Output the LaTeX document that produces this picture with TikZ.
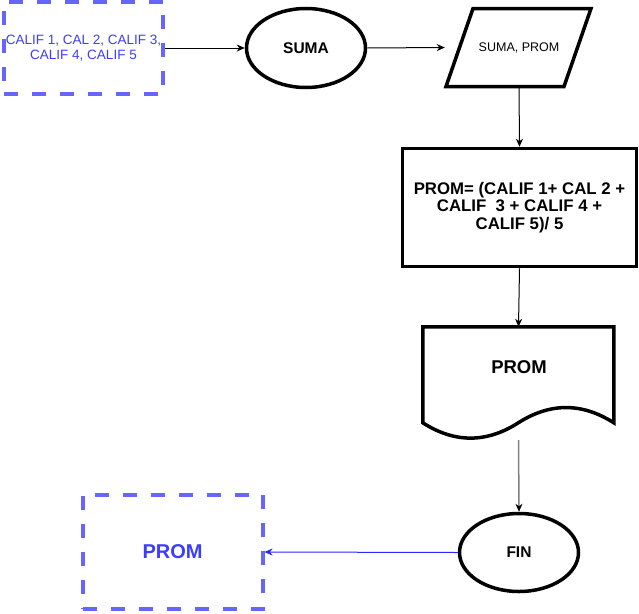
\documentclass[tikz,border=0pt]{standalone}
\usepackage{fontspec}
\setmainfont{Liberation Sans}
\usetikzlibrary{shapes.geometric,arrows.meta,calc}
\definecolor{dashblue}{HTML}{6666FF}
\definecolor{txtblue}{HTML}{3C3CFF}
\definecolor{lineblue}{HTML}{2828FF}
\definecolor{arrgray}{HTML}{808080}
\begin{document}
\begin{tikzpicture}[x=1pt,y=-1pt,
  dbox/.style={draw=dashblue, line width=4pt, dash pattern=on 14pt off 14pt, rectangle, inner sep=0pt, text=txtblue, align=center},
  term/.style={draw, ellipse, line width=3.5pt, inner sep=0pt, font=\bfseries\fontsize{15.5}{18}\selectfont},
  plain/.style={rectangle, inner sep=0pt, align=center},
  conn/.style={-{Stealth[length=8pt,width=7pt,inset=2.5pt]}, line width=1pt},
]
\useasboundingbox (0,0) rectangle (639,613);

\node[dbox, minimum width=159pt, minimum height=92.5pt, font=\fontsize{13.5}{15}\selectfont] (in) at (83.5,48) {CALIF 1, CAL 2, CALIF 3,\\CALIF 4, CALIF 5};

\node[term, minimum width=119pt, minimum height=79pt] (suma) at (306,48) {SUMA};

\node[plain, minimum width=148pt, minimum height=78pt, font=\fontsize{12.5}{15}\selectfont] (pr) at (519,47.5) {SUMA, PROM};
\draw[line width=3.5pt, line join=miter] (473,8.5) -- (591,8.5) -- (564,86.5) -- (446,86.5) -- cycle;

\node[draw, rectangle, line width=3.5pt, minimum width=234pt, minimum height=118pt, inner sep=0pt, align=center, font=\bfseries\fontsize{16.8}{17.5}\selectfont] (calc) at (519.5,207.5) {PROM= (CALIF 1+ CAL 2 +\\CALIF\ \ 3 + CALIF 4 +\\CALIF 5)/ 5};

\node[plain, minimum width=191pt, minimum height=113pt] (doc) at (518.5,383.5) {};
\begin{scope}[shift={(doc.north west)}]
\draw[line width=3.5pt, line join=miter] (0,0) -- (191,0) -- (191,96)
  .. controls (159.17,75.67) and (127.33,75.67) .. (95.5,96)
  .. controls (63.67,116.4) and (31.83,116.4) .. (0,96) -- cycle;
\end{scope}
\node[font=\bfseries\fontsize{18.5}{22}\selectfont, inner sep=0pt] (doctext) at (519,367) {PROM};

\node[term, minimum width=119pt, minimum height=78pt] (fin) at (519,552.5) {FIN};

\node[dbox, minimum width=180pt, minimum height=114.5pt, font=\bfseries\fontsize{20}{24}\selectfont] (out) at (172.5,552) {PROM};

\draw[conn] (in.east) -- (suma.west);
\draw[conn] (suma.east) -- (pr.west);
\draw[conn] (pr.south) -- (calc.north);
\draw[conn] (calc.south) -- (doc.north);
\draw[conn, line width=1.5pt, draw=arrgray, -{Stealth[length=8pt,width=7pt,inset=2.5pt,fill=black,line width=0pt]}] (doc.south) -- (fin.north);
\draw[conn, draw=lineblue, -{Stealth[length=8pt,width=7pt,inset=2.5pt,fill=lineblue]}] (fin.west) -- (out.east);
\end{tikzpicture}
\end{document}
